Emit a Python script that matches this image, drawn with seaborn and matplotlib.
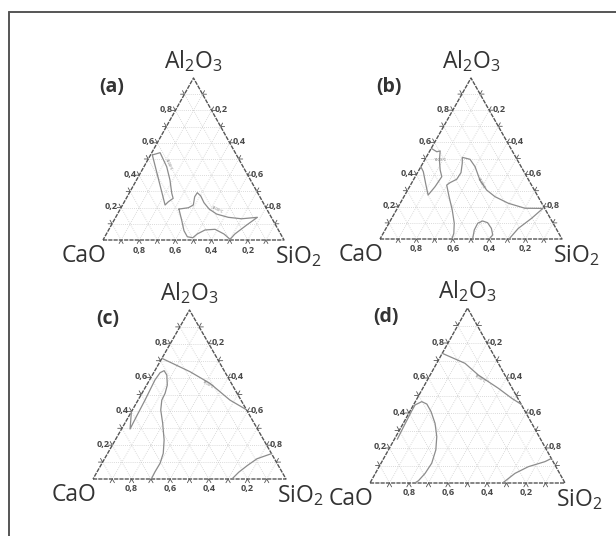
import numpy as np
import matplotlib
matplotlib.use("Agg")
import matplotlib.pyplot as plt
from matplotlib.lines import Line2D
import seaborn as sns

# ---- data: liquidus contours, as (Al2O3, SiO2) mole fractions, CaO = rest ----
# panel (a)
A1_AL = [0.525, 0.539, 0.452, 0.370, 0.288, 0.257, 0.236, 0.216, 0.525]
A1_SI = [0.010, 0.046, 0.126, 0.185, 0.236, 0.259, 0.243, 0.235, 0.010]
A2_AL = [0.191, 0.199, 0.216, 0.267, 0.292, 0.272, 0.230, 0.191, 0.160, 0.140,
         0.131, 0.140, 0.093, 0.037, 0.004, 0.037, 0.066, 0.062, 0.037, 0.014,
         0.020, 0.057, 0.123, 0.191]
A2_SI = [0.324, 0.372, 0.391, 0.373, 0.375, 0.404, 0.443, 0.491, 0.548, 0.622,
         0.700, 0.783, 0.748, 0.710, 0.700, 0.650, 0.586, 0.533, 0.502, 0.489,
         0.456, 0.419, 0.373, 0.324]
# panel (b)
B1_AL = [0.563, 0.542, 0.547, 0.491, 0.429, 0.387, 0.325, 0.273, 0.335, 0.418, 0.449]
B1_SI = [0.000, 0.041, 0.057, 0.081, 0.116, 0.146, 0.140, 0.128, 0.085, 0.029, 0.000]
B2_AL = [0.000, 0.035, 0.098, 0.180, 0.263, 0.335, 0.350, 0.371, 0.412, 0.470, 0.507,
         0.495, 0.449, 0.366, 0.304, 0.263, 0.222, 0.191, 0.190, 0.129, 0.066, 0.000]
B2_SI = [0.395, 0.388, 0.359, 0.307, 0.248, 0.199, 0.210, 0.236, 0.239, 0.217, 0.199,
         0.247, 0.298, 0.366, 0.434, 0.500, 0.594, 0.701, 0.800, 0.769, 0.727, 0.709]
B3_AL = [0.000, 0.056, 0.098, 0.112, 0.101, 0.066, 0.025, 0.000]
B3_SI = [0.509, 0.490, 0.488, 0.508, 0.541, 0.579, 0.607, 0.600]
# panel (c)
C1_AL = [0.714, 0.635, 0.566, 0.467, 0.410]
C1_SI = [0.000, 0.185, 0.323, 0.476, 0.590]
C2_AL = [0.398, 0.296, 0.373, 0.467, 0.586, 0.629, 0.641, 0.615, 0.556, 0.507,
         0.467, 0.408, 0.330, 0.231, 0.152, 0.093, 0.043, 0.000]
C2_SI = [0.000, 0.044, 0.040, 0.036, 0.028, 0.033, 0.048, 0.075, 0.107, 0.120,
         0.123, 0.147, 0.196, 0.253, 0.288, 0.301, 0.300, 0.302]
C3_AL = [0.150, 0.120, 0.080, 0.040, 0.000]
C3_SI = [0.850, 0.790, 0.760, 0.735, 0.720]
# panel (d)
D1_AL = [0.741, 0.684, 0.617, 0.541, 0.484, 0.450]
D1_SI = [0.000, 0.145, 0.247, 0.388, 0.485, 0.550]
D2_AL = [0.250, 0.331, 0.408, 0.446, 0.465, 0.451, 0.408, 0.341, 0.265, 0.189,
         0.113, 0.055, 0.013, 0.000]
D2_SI = [0.015, 0.011, 0.008, 0.008, 0.033, 0.066, 0.109, 0.163, 0.210, 0.243,
         0.260, 0.255, 0.242, 0.230]
D3_AL = [0.140, 0.122, 0.093, 0.055, 0.000]
D3_SI = [0.860, 0.836, 0.765, 0.716, 0.680]

# isotherm labels: (Al2O3, SiO2, rotation)
LBL_TEXT = "1400°C"
A_LBL = [(0.463, 0.128, -65), (0.185, 0.535, -25)]
B_LBL = [(0.491, 0.084, 0), (0.346, 0.382, -60)]
C_LBL = [(0.556, 0.319, -32)]
D_LBL = [(0.598, 0.265, -33)]

PANEL_TAGS = ["(a)", "(b)", "(c)", "(d)"]
CORNERS = ["CaO", "SiO$_2$", "Al$_2$O$_3$"]
TICK_VALUES = [0.2, 0.4, 0.6, 0.8]
TICK_LABELS = ["0,2", "0,4", "0,6", "0,8"]

# ---- style ----
sns.set_theme(style="white")
plt.rcParams["font.family"] = ["Open Sans", "DejaVu Sans"]
plt.rcParams["mathtext.fontset"] = "custom"
plt.rcParams["mathtext.rm"] = "Open Sans"
plt.rcParams["mathtext.it"] = "Open Sans:italic"
plt.rcParams["mathtext.bf"] = "Open Sans:bold"

H3 = np.sqrt(3) / 2
EDGE = "#555555"
CONTOUR = "#8c8c8c"
TXT = "#333333"


def tern(al, si):
    al = np.asarray(al, dtype=float)
    si = np.asarray(si, dtype=float)
    return si + al / 2, al * H3


def draw_triangle(ax):
    # dotted grid every 0.1
    for v in np.arange(0.1, 0.95, 0.1):
        for al, si in [([v, v], [0, 1 - v]), ([0, 1 - v], [v, v]), ([0, 1 - v], [1 - v, 0])]:
            x, y = tern(al, si)
            ax.plot(x, y, color="#cfcfcf", lw=0.6, ls=(0, (1, 1.5)), zorder=1)
    # edges
    x, y = tern([0, 0, 1, 0], [0, 1, 0, 0])
    ax.plot(x, y, color=EDGE, lw=1.0, ls=(0, (3, 0.8)), zorder=3, clip_on=False)
    # small ticks every 0.1
    L = 0.022
    for v in np.arange(0.1, 0.95, 0.1):
        bx, by = tern(0, v)
        ax.plot([bx - L * 0.5, bx, bx + L * 0.5], [-L * H3, 0, -L * H3], color=EDGE, lw=0.6, clip_on=False)
        lx, ly = tern(v, 0)
        ax.plot([lx - L, lx, lx - L * 0.5], [ly, ly, ly + L * H3], color=EDGE, lw=0.6, clip_on=False)
        rx, ry = tern(v, 1 - v)
        ax.plot([rx + L, rx, rx + L * 0.5], [ry, ry, ry + L * H3], color=EDGE, lw=0.6, clip_on=False)
    # tick labels
    kw = dict(textcoords="offset pixels", fontsize=6.5, fontweight="bold", color="#484848")
    for val, lab in zip(TICK_VALUES, TICK_LABELS):
        ax.annotate(lab, tern(0, 1 - val), xytext=(0, -10), ha="center", va="center", **kw)
        ax.annotate(lab, tern(val, 0), xytext=(-3, 1), ha="right", va="center", **kw)
        ax.annotate(lab, tern(1 - val, val), xytext=(3, 1), ha="left", va="center", **kw)


def draw_corners(ax, tag):
    kw = dict(textcoords="offset pixels", fontsize=16.5, color=TXT)
    ax.annotate(CORNERS[0], (0, 0), xytext=(3, -16), ha="right", va="center", **kw)
    ax.annotate(CORNERS[1], (1, 0), xytext=(-9, -17), ha="left", va="center", **kw)
    ax.annotate(CORNERS[2], (0.5, H3), xytext=(0, 17), ha="center", va="center", **kw)
    ax.annotate(tag, (0.5, H3), xytext=(-82, -9), textcoords="offset pixels",
                ha="center", va="center", fontsize=14, fontweight="bold", color=TXT)


# triangle boxes in pixels: left x, base y, width, height
BOXES = [(103, 240, 181, 162), (380, 239, 182, 161), (93, 479, 193, 169), (370, 483, 195, 175)]
CONTOURS = [
    [(A1_AL, A1_SI), (A2_AL, A2_SI)],
    [(B1_AL, B1_SI), (B2_AL, B2_SI), (B3_AL, B3_SI)],
    [(C1_AL, C1_SI), (C2_AL, C2_SI), (C3_AL, C3_SI)],
    [(D1_AL, D1_SI), (D2_AL, D2_SI), (D3_AL, D3_SI)],
]
LABELS = [A_LBL, B_LBL, C_LBL, D_LBL]

FW, FH = 616, 536
fig = plt.figure(figsize=(FW / 100, FH / 100), dpi=100)
fig.patch.set_facecolor("white")

for box, curves, lbls, tag in zip(BOXES, CONTOURS, LABELS, PANEL_TAGS):
    x0, yb, w, h = box
    ax = fig.add_axes([x0 / FW, (FH - yb) / FH, w / FW, h / FH])
    ax.set_xlim(0, 1)
    ax.set_ylim(0, H3)
    ax.axis("off")
    draw_triangle(ax)
    for al, si in curves:
        x, y = tern(al, si)
        sns.lineplot(x=x, y=y, sort=False, estimator=None, color=CONTOUR, lw=0.9, ax=ax, zorder=4)
    for al, si, rot in lbls:
        x, y = tern(al, si)
        ax.text(x, y, LBL_TEXT, fontsize=2.8, color="#777777", rotation=rot,
                ha="center", va="center", zorder=5)
    draw_corners(ax, tag)

# frame (top and left sides only, the rest is cropped)
fig.add_artist(Line2D([9 / FW, 1], [1 - 12 / FH, 1 - 12 / FH], transform=fig.transFigure,
                      color="#555555", lw=1.4))
fig.add_artist(Line2D([9 / FW, 9 / FW], [1 - 12 / FH, 0], transform=fig.transFigure,
                      color="#555555", lw=1.4))

fig.savefig("out.png", dpi=100, facecolor="white")
